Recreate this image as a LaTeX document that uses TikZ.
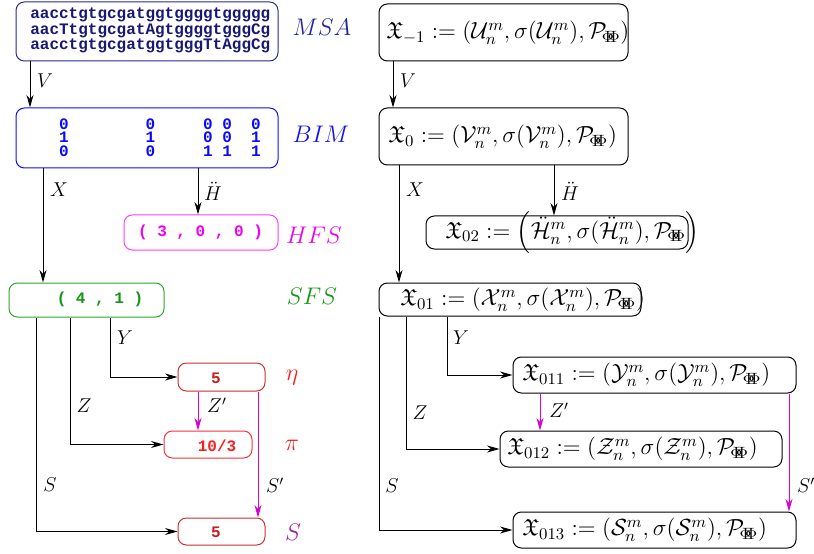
\RequirePackage{fix-cm}
\documentclass[tikz,border=0pt]{standalone}
\usepackage{amsmath,amssymb}
\usepackage{fontspec}
\newfontfamily\monob{Liberation Mono Bold}
\usetikzlibrary{arrows.meta,fit}

\definecolor{navyline}{RGB}{40,40,150}
\definecolor{navytext}{RGB}{25,25,115}
\definecolor{navylabel}{RGB}{35,35,165}
\definecolor{bimblue}{RGB}{10,10,250}
\definecolor{bimlabel}{RGB}{20,20,240}
\definecolor{hfsmag}{RGB}{255,60,255}
\definecolor{hfstext}{RGB}{240,0,240}
\definecolor{sfsgreen}{RGB}{40,165,40}
\definecolor{sfstext}{RGB}{20,150,20}
\definecolor{redline}{RGB}{205,45,45}
\definecolor{redlinebright}{RGB}{245,50,50}
\definecolor{redtext}{RGB}{200,30,30}
\definecolor{redbright}{RGB}{250,30,30}
\definecolor{slabel}{RGB}{160,30,160}
\definecolor{arrmag}{RGB}{215,0,215}

\newcommand\PB{\mathcal{P}_{\!\Phi\mkern-7mu\Phi}}
\newcommand\gapc[1]{\hspace*{#1em}}

\tikzset{
  box/.style={inner sep=0pt, rounded corners=5pt, line width=0.6pt},
  rbox/.style={box, draw=black},
  arr/.style={-{Stealth[length=7.5pt,width=4.2pt,inset=2.4pt]}, line width=0.6pt},
  marr/.style={arr, draw=arrmag, color=arrmag},
  elab/.style={font=\large, inner sep=0pt},
  maplab/.style={font=\Large, inner sep=0pt},
  mono/.style={font=\monob\fontsize{9.6}{7.8}\selectfont, inner sep=0pt, align=left},
  rmath/.style={font=\fontsize{14}{17}\selectfont, inner sep=0pt, anchor=west},
}

\begin{document}
\begin{tikzpicture}[x=0.6pt,y=-0.6pt]
\useasboundingbox (0,0) rectangle (814,554);

% ---------------- left column: boxes ----------------
\node[box, draw=navyline, fit={(16,2)(278,61)}] (msa) {};
\node[box, draw=bimblue, fit={(16,108)(278,168)}] (bim) {};
\node[box, draw=hfsmag, fit={(124,215)(278,250)}] (hfs) {};
\node[box, draw=sfsgreen, fit={(9,283)(164,317)}] (sfs) {};
\node[box, draw=redline, fit={(178,363)(265,391)}] (eta) {};
\node[box, draw=redlinebright, fit={(164,431)(252,458)}] (pin) {};
\node[box, draw=redline, fit={(178,518)(265,545)}] (sbx) {};

% box contents
\node[mono, anchor=west, text=navytext] (msatxt) at (30,30.5)
  {aacctgtgcgatggtggggtggggg\\aacTtgtgcgatAgtggggtgggCg\\aacctgtgcgatggtgggTtAggCg};
\node[mono, anchor=west, text=bimblue, font=\monob\fontsize{9.6}{8.1}\selectfont] (bimtxt) at (30,137.5)
  {\gapc{1.8}0\gapc{4.8}0\gapc{3}0\gapc{0.6}0\gapc{1.2}0\\
   \gapc{1.8}1\gapc{4.8}1\gapc{3}0\gapc{0.6}0\gapc{1.2}1\\
   \gapc{1.8}0\gapc{4.8}0\gapc{3}1\gapc{0.6}1\gapc{1.2}1};
\node[mono, text=hfstext] (hfstxt) at (200.5,232.5) {( 3 , 0 , 0 )};
\node[mono, text=sfstext] (sfstxt) at (100,299.5) {( 4 , 1 )};
\node[mono, text=redtext] (etatxt) at (216,378) {5};
\node[mono, text=redbright] (pitxt) at (217,445.5) {10/3};
\node[mono, text=redtext] (stxt) at (216,532.5) {5};

% names of the stages
\node[maplab, text=navylabel] (lmsa) at (322,27) {$MSA$};
\node[maplab, text=bimlabel] (lbim) at (321,134) {$BIM$};
\node[maplab, text=hfstext] (lhfs) at (314,235) {$HFS$};
\node[maplab, text=sfstext] (lsfs) at (312,296) {$SFS$};
\node[maplab, text=redbright] (leta) at (292,378) {$\eta$};
\node[maplab, text=redbright] (lpi) at (292,445) {$\pi$};
\node[maplab, text=slabel] (ls) at (293,532) {$S$};

% connector columns
\coordinate (cV) at (30,0);
\coordinate (cX) at (43,0);
\coordinate (cH) at (198,0);
\coordinate (cS) at (36,0);
\coordinate (cZ) at (70,0);
\coordinate (cY) at (110,0);
\coordinate (cZp) at (198,0);
\coordinate (cSp) at (258,0);

\draw[arr] (msa.south -| cV) -- (bim.north -| cV);
\draw[arr] (bim.south -| cX) -- (sfs.north -| cX);
\draw[arr] (bim.south -| cH) -- (hfs.north -| cH);
\draw[arr] (sfs.south -| cY) |- (eta.west);
\draw[arr] (sfs.south -| cZ) |- (pin.west);
\draw[arr] (sfs.south -| cS) |- (sbx.west);
\draw[marr] (eta.south -| cZp) -- (pin.north -| cZp);
\draw[marr] (eta.south -| cSp) -- (sbx.north -| cSp);

\node[elab] (lV) at (45,81) {$V$};
\node[elab] (lX) at (59,190) {$X$};
\node[elab] (lH) at (213,191) {$\ddot{H}$};
\node[elab] (lY) at (125,338) {$Y$};
\node[elab] (lZ) at (84,406) {$Z$};
\node[elab] (lZp) at (217,405) {$Z'$};
\node[elab] (lS) at (50,485) {$S$};
\node[elab] (lSp) at (275,485) {$S'$};

% ---------------- right column: boxes ----------------
\node[rbox, fit={(379,4)(628,61)}] (rm) {};
\node[rbox, fit={(379,108)(628,165)}] (r0) {};
\node[rbox, fit={(426,216)(688,249)}] (r02) {};
\node[rbox, fit={(379,283)(641,316)}] (r01) {};
\node[rbox, fit={(513,357)(796,393)}] (r011) {};
\node[rbox, fit={(500,431)(782,467)}] (r012) {};
\node[rbox, fit={(513,512)(796,548)}] (r013) {};

\node[rmath] (rmtxt) at (386,33)
  {$\mathfrak{X}_{-1} := (\mathcal{U}^m_n, \sigma(\mathcal{U}^m_n), \PB)$};
\node[rmath] (r0txt) at (388,137)
  {$\mathfrak{X}_{0} := (\mathcal{V}^m_n, \sigma(\mathcal{V}^m_n), \PB)$};
\node[rmath] (r02txt) at (445,232.5)
  {$\mathfrak{X}_{02} := \Bigl(\ddot{\mathcal{H}}^m_n, \sigma(\ddot{\mathcal{H}}^m_n), \PB\Bigr)$};
\node[rmath] (r01txt) at (400,300)
  {$\mathfrak{X}_{01} := (\mathcal{X}^m_n, \sigma(\mathcal{X}^m_n), \PB)$};
\node[rmath] (r011txt) at (522,375)
  {$\mathfrak{X}_{011} := (\mathcal{Y}^m_n, \sigma(\mathcal{Y}^m_n), \PB)$};
\node[rmath] (r012txt) at (507,449)
  {$\mathfrak{X}_{012} := (\mathcal{Z}^m_n, \sigma(\mathcal{Z}^m_n), \PB)$};
\node[rmath] (r013txt) at (522,530)
  {$\mathfrak{X}_{013} := (\mathcal{S}^m_n, \sigma(\mathcal{S}^m_n), \PB)$};

\coordinate (rV) at (393,0);
\coordinate (rX) at (399,0);
\coordinate (rH) at (554,0);
\coordinate (rS) at (379,0);
\coordinate (rZ) at (406,0);
\coordinate (rY) at (447,0);
\coordinate (rZp) at (540,0);
\coordinate (rSp) at (789,0);

\draw[arr] (rm.south -| rV) -- (r0.north -| rV);
\draw[arr] (r0.south -| rX) -- (r01.north -| rX);
\draw[arr] (r0.south -| rH) -- (r02.north -| rH);
\draw[arr] (r01.south -| rY) |- (r011.west);
\draw[arr] (r01.south -| rZ) |- (r012.west);
\draw[arr] (r01.south -| rS) |- (r013.west);
\draw[marr] (r011.south -| rZp) -- (r012.north -| rZp);
\draw[marr] (r011.south -| rSp) -- (r013.north -| rSp);

\node[elab] (rlV) at (408,81) {$V$};
\node[elab] (rlX) at (415,190) {$X$};
\node[elab] (rlH) at (570,191) {$\ddot{H}$};
\node[elab] (rlY) at (461,338) {$Y$};
\node[elab] (rlZ) at (420,413) {$Z$};
\node[elab] (rlZp) at (559,410) {$Z'$};
\node[elab] (rlS) at (392,486) {$S$};
\node[elab] (rlSp) at (806,485) {$S'$};
\end{tikzpicture}
\end{document}
